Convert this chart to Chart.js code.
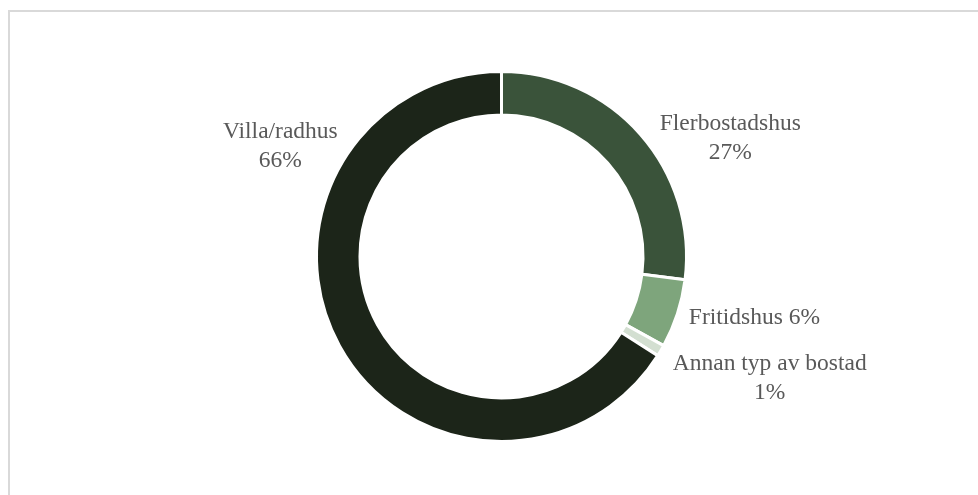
<!DOCTYPE html>
<html>
<head>
<meta charset="utf-8">
<script src="https://cdn.jsdelivr.net/npm/chart.js@4.4.0/dist/chart.umd.min.js"></script>
<style>
  html, body { margin: 0; padding: 0; background: #fff; overflow: hidden; }
  #wrap { position: absolute; left: 0; top: 0; width: 978px; height: 495px; }
  #frame { position: absolute; left: 8px; top: 10px; width: 990px; height: 520px; border: 2px solid #d9d9d9; box-sizing: border-box; }
</style>
</head>
<body>
<div id="wrap">
  <div id="frame"></div>
  <canvas id="pie" width="978" height="495"></canvas>
</div>
<script>
// bostadstyp, andel i procent
const categories = ['Flerbostadshus', 'Fritidshus', 'Annan typ av bostad', 'Villa/radhus'];
const shares = [27, 6, 1, 66];
const labelLines = [['Flerbostadshus', '27%'], ['Fritidshus 6%'], ['Annan typ av bostad', '1%'], ['Villa/radhus', '66%']];

const colors = ['#3a533a', '#7ea57c', '#d3dfd1', '#1c2519'];
// label offset from the outer edge at each slice's middle angle
const labelOffsets = [[90, 4], [77, 4], [109, 28], [-59, -199]];

const outsideLabels = {
  id: 'outsideLabels',
  afterDatasetsDraw(chart) {
    const ctx = chart.ctx;
    const meta = chart.getDatasetMeta(0);
    ctx.save();
    ctx.font = '23.5px "Liberation Serif", "Times New Roman", serif';
    ctx.fillStyle = '#595959';
    ctx.textAlign = 'center';
    ctx.textBaseline = 'middle';
    meta.data.forEach(function(arc, i) {
      const p = arc.getProps(['x', 'y', 'startAngle', 'endAngle', 'outerRadius'], true);
      const mid = (p.startAngle + p.endAngle) / 2;
      const cx = p.x + Math.cos(mid) * p.outerRadius + labelOffsets[i][0];
      const cy = p.y + Math.sin(mid) * p.outerRadius + labelOffsets[i][1];
      const lines = labelLines[i];
      const lh = 29;
      lines.forEach(function(t, j) {
        ctx.fillText(t, cx, cy + (j - (lines.length - 1) / 2) * lh);
      });
    });
    ctx.restore();
  }
};

new Chart(document.getElementById('pie').getContext('2d'), {
  type: 'doughnut',
  data: {
    labels: categories,
    datasets: [{
      data: shares,
      backgroundColor: colors,
      borderColor: '#ffffff',
      borderWidth: 3,
      hoverOffset: 0
    }]
  },
  options: {
    responsive: false,
    animation: false,
    cutout: '76.5%',
    layout: { padding: { left: 315, right: 290, top: 70, bottom: 52 } },
    plugins: { legend: { display: false }, tooltip: { enabled: false } }
  },
  plugins: [outsideLabels]
});
</script>
</body>
</html>
